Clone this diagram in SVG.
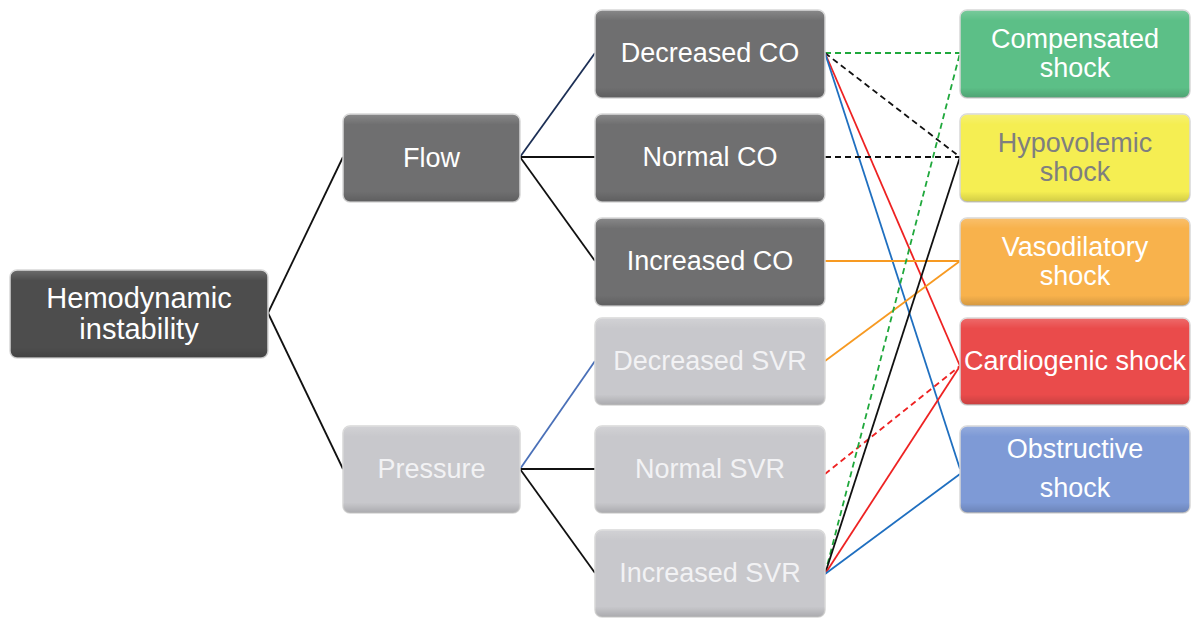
<svg xmlns="http://www.w3.org/2000/svg" width="1200" height="627" viewBox="0 0 1200 627">
<defs>
<linearGradient id="shade" x1="0" y1="0" x2="0" y2="1">
<stop offset="0" stop-color="#fff" stop-opacity="0.18"/>
<stop offset="0.12" stop-color="#fff" stop-opacity="0"/>
<stop offset="0.88" stop-color="#000" stop-opacity="0"/>
<stop offset="1" stop-color="#000" stop-opacity="0.15"/>
</linearGradient>
</defs>
<style>
.box{stroke:#d8d8d8;stroke-width:1.5}
.t{font-family:"Liberation Sans",Arial,sans-serif;font-size:27px;text-anchor:middle;fill:#ffffff}
.h{font-size:29px}
.tl{fill:#f2f2f4}
.tg{fill:#7f7f7f}
.c{fill:none;stroke-width:1.8}
.k{stroke:#111}
.d{stroke-dasharray:6 4}
.g{stroke:#1fa83c}
.r{stroke:#ee2222}
.b{stroke:#1f6fc0}
.o{stroke:#f79a22}
.bb{stroke:#4a70b8}
</style>
<rect width="1200" height="627" fill="#ffffff"/>
<g id="connectors">
<line class="c k" x1="268" y1="313" x2="343" y2="157"/>
<line class="c k" x1="268" y1="313" x2="343" y2="469"/>
<line class="c k" x1="520" y1="157" x2="595" y2="53" style="stroke:#1c2f55"/>
<line class="c k" x1="520" y1="157" x2="595" y2="157"/>
<line class="c k" x1="520" y1="157" x2="595" y2="261"/>
<line class="c bb" x1="520" y1="469" x2="595" y2="361"/>
<line class="c k" x1="520" y1="469" x2="595" y2="469"/>
<line class="c k" x1="520" y1="469" x2="595" y2="573"/>
<line class="c g d" x1="825" y1="53" x2="960" y2="53"/>
<line class="c k d" x1="825" y1="53" x2="960" y2="157"/>
<line class="c r" x1="825" y1="53" x2="960" y2="366"/>
<line class="c b" x1="825" y1="53" x2="960" y2="469"/>
<line class="c k d" x1="825" y1="157" x2="960" y2="157"/>
<line class="c o" x1="825" y1="261" x2="960" y2="261"/>
<line class="c o" x1="825" y1="361" x2="960" y2="261"/>
<line class="c r d" x1="825" y1="474" x2="960" y2="366"/>
<line class="c g d" x1="825" y1="574" x2="960" y2="53"/>
<line class="c k" x1="825" y1="574" x2="960" y2="157"/>
<line class="c r" x1="825" y1="574" x2="960" y2="366"/>
<line class="c b" x1="825" y1="574" x2="960" y2="474"/>
</g>
<g id="n-hemo">
<rect class="box" x="10" y="270" width="258" height="88" rx="7" fill="#4d4d4d"/>
<rect x="10" y="270" width="258" height="88" rx="7" fill="url(#shade)"/>
<text class="t h" x="139" y="308">Hemodynamic</text>
<text class="t h" x="139" y="339">instability</text>
</g>
<g id="n-flow">
<rect class="box" x="343" y="114" width="177" height="88" rx="7" fill="#6f6f70"/>
<rect x="343" y="114" width="177" height="88" rx="7" fill="url(#shade)"/>
<text class="t" x="431.5" y="167">Flow</text>
</g>
<g id="n-pressure">
<rect class="box" x="343" y="426" width="177" height="87" rx="7" fill="#c8c8cc"/>
<rect x="343" y="426" width="177" height="87" rx="7" fill="url(#shade)"/>
<text class="t tl" x="431.5" y="478">Pressure</text>
</g>
<g id="n-dco">
<rect class="box" x="595" y="10" width="230" height="88" rx="7" fill="#6f6f70"/>
<rect x="595" y="10" width="230" height="88" rx="7" fill="url(#shade)"/>
<text class="t" x="710" y="62">Decreased CO</text>
</g>
<g id="n-nco">
<rect class="box" x="595" y="114" width="230" height="88" rx="7" fill="#6f6f70"/>
<rect x="595" y="114" width="230" height="88" rx="7" fill="url(#shade)"/>
<text class="t" x="710" y="166">Normal CO</text>
</g>
<g id="n-ico">
<rect class="box" x="595" y="218" width="230" height="88" rx="7" fill="#6f6f70"/>
<rect x="595" y="218" width="230" height="88" rx="7" fill="url(#shade)"/>
<text class="t" x="710" y="270">Increased CO</text>
</g>
<g id="n-dsvr">
<rect class="box" x="595" y="318" width="230" height="87" rx="7" fill="#c8c8cc"/>
<rect x="595" y="318" width="230" height="87" rx="7" fill="url(#shade)"/>
<text class="t tl" x="710" y="370">Decreased SVR</text>
</g>
<g id="n-nsvr">
<rect class="box" x="595" y="426" width="230" height="87" rx="7" fill="#c8c8cc"/>
<rect x="595" y="426" width="230" height="87" rx="7" fill="url(#shade)"/>
<text class="t tl" x="710" y="478">Normal SVR</text>
</g>
<g id="n-isvr">
<rect class="box" x="595" y="530" width="230" height="87" rx="7" fill="#c8c8cc"/>
<rect x="595" y="530" width="230" height="87" rx="7" fill="url(#shade)"/>
<text class="t tl" x="710" y="582">Increased SVR</text>
</g>
<g id="n-comp">
<rect class="box" x="960" y="10" width="230" height="88" rx="7" fill="#5cbf87"/>
<rect x="960" y="10" width="230" height="88" rx="7" fill="url(#shade)"/>
<text class="t" x="1075" y="48">Compensated</text>
<text class="t" x="1075" y="77">shock</text>
</g>
<g id="n-hypo">
<rect class="box" x="960" y="114" width="230" height="88" rx="7" fill="#f5ee52"/>
<rect x="960" y="114" width="230" height="88" rx="7" fill="url(#shade)"/>
<text class="t tg" x="1075" y="152">Hypovolemic</text>
<text class="t tg" x="1075" y="181">shock</text>
</g>
<g id="n-vaso">
<rect class="box" x="960" y="218" width="230" height="88" rx="7" fill="#f8b24c"/>
<rect x="960" y="218" width="230" height="88" rx="7" fill="url(#shade)"/>
<text class="t" x="1075" y="256">Vasodilatory</text>
<text class="t" x="1075" y="285">shock</text>
</g>
<g id="n-cardio">
<rect class="box" x="960" y="318" width="230" height="87" rx="7" fill="#ea4b4b"/>
<rect x="960" y="318" width="230" height="87" rx="7" fill="url(#shade)"/>
<text class="t" x="1075" y="370">Cardiogenic shock</text>
</g>
<g id="n-obst">
<rect class="box" x="960" y="426" width="230" height="87" rx="7" fill="#7e9ad6"/>
<rect x="960" y="426" width="230" height="87" rx="7" fill="url(#shade)"/>
<text class="t" x="1075" y="458">Obstructive</text>
<text class="t" x="1075" y="497">shock</text>
</g>
</svg>
